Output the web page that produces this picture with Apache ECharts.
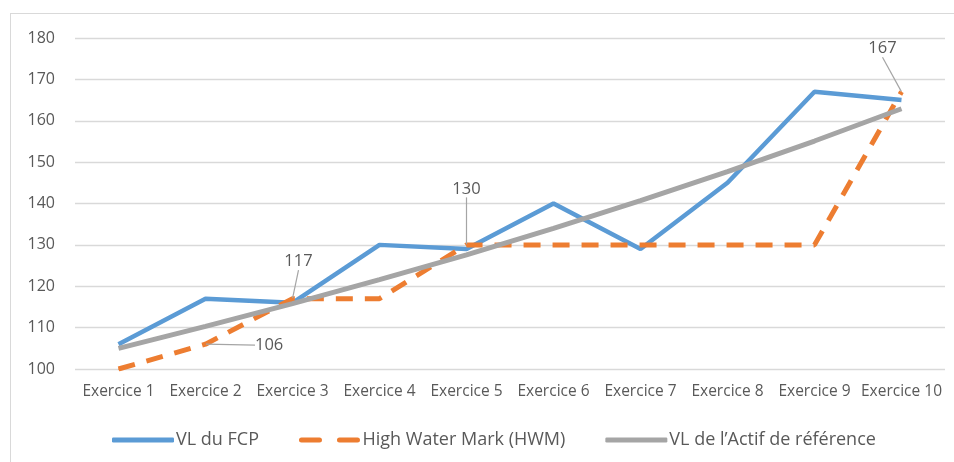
<!DOCTYPE html>
<html lang="fr">
<head>
<meta charset="UTF-8">
<title>VL du FCP</title>
<script src="https://cdn.jsdelivr.net/npm/echarts@6/dist/echarts.min.js"></script>
<style>
  body { margin: 0; background: #fff; overflow: hidden; }
  #frame { position: absolute; left: 10px; top: 13px; width: 960px; height: 470px; border: 1px solid #d9d9d9; }
  #container { position: absolute; left: 0; top: 0; width: 954px; height: 462px; }
</style>
</head>
<body>
<div id="frame"></div>
<div id="container"></div>
<script>
  // categories / series
  var exercices = ['Exercice 1', 'Exercice 2', 'Exercice 3', 'Exercice 4', 'Exercice 5',
    'Exercice 6', 'Exercice 7', 'Exercice 8', 'Exercice 9', 'Exercice 10'];
  var vlFcp = [106, 117, 116, 130, 129, 140, 129, 145, 167, 165];
  var hwm = [100, 106, 117, 117, 130, 130, 130, 130, 130, 167];
  var vlActif = [105, 110.3, 115.8, 121.6, 127.6, 134, 140.7, 147.7, 155.1, 162.9];
  // points of the HWM line that carry a label
  var hwmLabelIdx = [1, 2, 4, 9];

  var font = "'Open Sans', sans-serif";
  var textColor = '#595959';

  var hwmData = hwm.map(function (v, i) {
    if (hwmLabelIdx.indexOf(i) >= 0) {
      return { value: v, label: { show: true, position: i == 1 ? 'right' : 'top' } };
    }
    return v;
  });

  // shift of each label from its default place (label, not mark)
  var labelShift = { 1: [44, 1], 2: [6, -23], 4: [0, -42], 9: [-19, -29] };

  var chart = echarts.init(document.getElementById('container'));
  var option = {
    backgroundColor: 'transparent',
    color: ['#5B9BD5', '#ED7D31', '#A5A5A5'],
    textStyle: { fontFamily: font },
    grid: { left: 75, right: 9, top: 38, bottom: 93 },
    legend: {
      left: 107,
      top: 426,
      itemWidth: 62,
      itemHeight: 5,
      itemGap: 40,
      icon: 'roundRect',
      textStyle: { fontSize: 18, color: textColor, fontFamily: font, padding: [0, 0, 0, -3] },
      data: [
        { name: 'VL du FCP' },
        { name: 'High Water Mark (HWM)', icon: 'path://M2,0h18a2,2 0 0 1 0,5h-18a2,2 0 0 1 0,-5zM40,0h18a2,2 0 0 1 0,5h-18a2,2 0 0 1 0,-5z' },
        { name: 'VL de l\u2019Actif de référence' }
      ]
    },
    xAxis: {
      type: 'category',
      data: exercices,
      boundaryGap: true,
      axisLine: { show: false },
      axisTick: { show: false },
      axisLabel: { color: textColor, fontSize: 15.5, margin: 15, interval: 0, fontFamily: font }
    },
    yAxis: {
      type: 'value',
      min: 100,
      max: 180,
      interval: 10,
      axisLine: { show: false },
      axisTick: { show: false },
      axisLabel: { color: textColor, fontSize: 16, margin: 20, fontFamily: font },
      splitLine: { lineStyle: { color: '#d9d9d9', width: 1.3 } }
    },
    series: [{
      name: 'VL du FCP',
      type: 'line',
      data: vlFcp,
      showSymbol: false,
      symbol: 'none',
      lineStyle: { width: 4.5 }
    }, {
      name: 'High Water Mark (HWM)',
      type: 'line',
      data: hwmData,
      symbol: 'circle',
      symbolSize: 1,
      showSymbol: true,
      lineStyle: { width: 5, type: [17, 12] },
      label: { show: false, color: textColor, fontSize: 16.5, fontFamily: font, distance: 5 },
      labelLine: { show: true, lineStyle: { color: '#A5A5A5', width: 1.2 } },
      labelLayout: function (p) {
        var s = labelShift[p.dataIndex];
        if (!s) return {};
        return { dx: s[0], dy: s[1] };
      }
    }, {
      name: 'VL de l\u2019Actif de référence',
      type: 'line',
      data: vlActif,
      showSymbol: false,
      symbol: 'none',
      lineStyle: { width: 5 }
    }]
  };
  chart.setOption(option);
</script>
</body>
</html>
